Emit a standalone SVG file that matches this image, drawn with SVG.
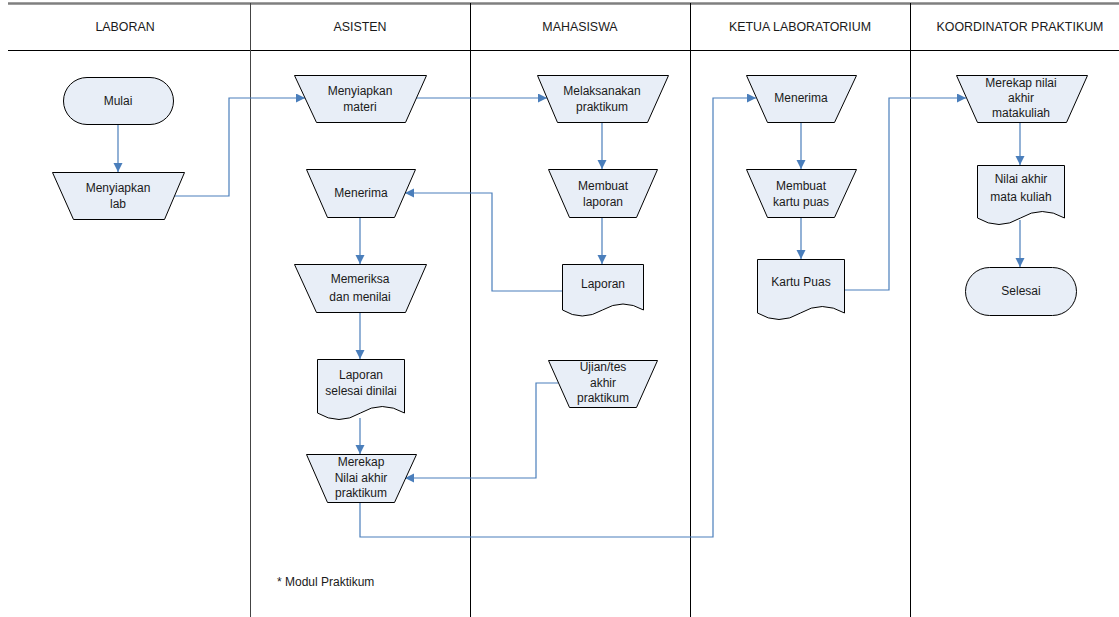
<svg xmlns="http://www.w3.org/2000/svg" width="1119" height="617" viewBox="0 0 1119 617">
<style>
  .shape { fill: #e8eef7; stroke: #000; stroke-width: 1; }
  .lbl { font-family: "Liberation Sans", Arial, sans-serif; font-size: 12px; fill: #1a1a1a; text-anchor: middle; }
  .hdr { font-family: "Liberation Sans", Arial, sans-serif; font-size: 12.4px; fill: #1a1a1a; text-anchor: middle; }
  .conn { fill: none; stroke: #4a7ebb; stroke-width: 1.2; }
  .lane { stroke: #000; stroke-width: 1; }
</style>
<defs>
  <marker id="arr" markerUnits="userSpaceOnUse" markerWidth="10" markerHeight="10" refX="9" refY="4.5" orient="auto">
    <path d="M0,0 L9,4.5 L0,9 z" fill="#4a7ebb"/>
  </marker>
</defs>
<rect width="1119" height="617" fill="#fff"/>
<g id="lanes">
  <line x1="8" y1="3.5" x2="1119" y2="3.5" stroke="#7f7f7f" stroke-width="2.5"/>
  <line class="lane" x1="8" y1="50.5" x2="1119" y2="50.5"/>
  <line x1="250.5" y1="3" x2="250.5" y2="617" stroke="#444" stroke-width="1"/>
  <line class="lane" x1="470.5" y1="3" x2="470.5" y2="617"/>
  <line class="lane" x1="690.5" y1="3" x2="690.5" y2="617"/>
  <line class="lane" x1="910.5" y1="3" x2="910.5" y2="617"/>
  <text class="hdr" x="125" y="31">LABORAN</text>
  <text class="hdr" x="360" y="31">ASISTEN</text>
  <text class="hdr" x="580" y="31">MAHASISWA</text>
  <text class="hdr" x="800" y="31">KETUA LABORATORIUM</text>
  <text class="hdr" x="1020" y="31">KOORDINATOR PRAKTIKUM</text>
</g>
<g id="connectors">
  <path class="conn" d="M118 124 V172" marker-end="url(#arr)"/>
  <path class="conn" d="M174 196 H229 V98 H305" marker-end="url(#arr)"/>
  <path class="conn" d="M415 98 H547" marker-end="url(#arr)"/>
  <path class="conn" d="M602 122 V169" marker-end="url(#arr)"/>
  <path class="conn" d="M602 217 V264" marker-end="url(#arr)"/>
  <path class="conn" d="M562 291 H492 V193 H405" marker-end="url(#arr)"/>
  <path class="conn" d="M360 217 V264" marker-end="url(#arr)"/>
  <path class="conn" d="M360 312 V359" marker-end="url(#arr)"/>
  <path class="conn" d="M360 418 V454" marker-end="url(#arr)"/>
  <path class="conn" d="M558 383 H536 V478 H405" marker-end="url(#arr)"/>
  <path class="conn" d="M360 502 V537 H713 V98 H756" marker-end="url(#arr)"/>
  <path class="conn" d="M801 122 V169" marker-end="url(#arr)"/>
  <path class="conn" d="M801 217 V259" marker-end="url(#arr)"/>
  <path class="conn" d="M844 290 H889 V98 H966" marker-end="url(#arr)"/>
  <path class="conn" d="M1020 122 V165" marker-end="url(#arr)"/>
  <path class="conn" d="M1020 220 V267" marker-end="url(#arr)"/>
</g>
<g id="mulai">
  <rect class="shape" x="63.5" y="77.5" width="110" height="47" rx="23.5" ry="23.5"/>
  <text class="lbl" x="118" y="105">Mulai</text>
</g>
<g id="menyiapkan-lab">
  <path class="shape" d="M52.5 172.5 H184.5 L164.5 219.5 H73.5 Z"/>
  <text class="lbl" x="118" y="192">Menyiapkan</text>
  <text class="lbl" x="118" y="208">lab</text>
</g>
<g id="menyiapkan-materi">
  <path class="shape" d="M294.5 75.5 H426.5 L405.5 122.5 H316.5 Z"/>
  <text class="lbl" x="360" y="95">Menyiapkan</text>
  <text class="lbl" x="360" y="111">materi</text>
</g>
<g id="melaksanakan-praktikum">
  <path class="shape" d="M537.5 75.5 H668.5 L647.5 122.5 H557.5 Z"/>
  <text class="lbl" x="602" y="95">Melaksanakan</text>
  <text class="lbl" x="602" y="111">praktikum</text>
</g>
<g id="menerima-asisten">
  <path class="shape" d="M306.5 169.5 H415.5 L394.5 217.5 H327.5 Z"/>
  <text class="lbl" x="361" y="197">Menerima</text>
</g>
<g id="membuat-laporan">
  <path class="shape" d="M548.5 169.5 H657.5 L636.5 217.5 H569.5 Z"/>
  <text class="lbl" x="603" y="190">Membuat</text>
  <text class="lbl" x="603" y="206">laporan</text>
</g>
<g id="laporan">
  <path class="shape" d="M562.5 264.5 H643.5 V310 Q623 298 602.5 310 Q582 322 562.5 310 Z"/>
  <text class="lbl" x="603" y="288">Laporan</text>
</g>
<g id="memeriksa">
  <path class="shape" d="M294.5 264.5 H426.5 L405.5 312.5 H316.5 Z"/>
  <text class="lbl" x="360" y="283">Memeriksa</text>
  <text class="lbl" x="360" y="301">dan menilai</text>
</g>
<g id="laporan-selesai">
  <path class="shape" d="M317.5 359.5 H404.5 V413 Q382 400 360.5 413 Q339 426 317.5 413 Z"/>
  <text class="lbl" x="361" y="379">Laporan</text>
  <text class="lbl" x="361" y="395">selesai dinilai</text>
</g>
<g id="ujian">
  <path class="shape" d="M548.5 360.5 H657.5 L636.5 407.5 H569.5 Z"/>
  <text class="lbl" x="603" y="371">Ujian/tes</text>
  <text class="lbl" x="603" y="387">akhir</text>
  <text class="lbl" x="603" y="402">praktikum</text>
</g>
<g id="merekap-praktikum">
  <path class="shape" d="M306.5 454.5 H416.5 L394.5 502.5 H327.5 Z"/>
  <text class="lbl" x="361" y="466">Merekap</text>
  <text class="lbl" x="361" y="482">Nilai akhir</text>
  <text class="lbl" x="361" y="497">praktikum</text>
</g>
<g id="menerima-ketua">
  <path class="shape" d="M746.5 75.5 H856.5 L834.5 122.5 H767.5 Z"/>
  <text class="lbl" x="801" y="102">Menerima</text>
</g>
<g id="membuat-kartu">
  <path class="shape" d="M746.5 169.5 H856.5 L834.5 217.5 H767.5 Z"/>
  <text class="lbl" x="801" y="190">Membuat</text>
  <text class="lbl" x="801" y="206">kartu puas</text>
</g>
<g id="kartu-puas">
  <path class="shape" d="M757.5 259.5 H844.5 V313 Q822 300 800.5 313 Q779 326 757.5 313 Z"/>
  <text class="lbl" x="801" y="286">Kartu Puas</text>
</g>
<g id="merekap-matakuliah">
  <path class="shape" d="M956.5 75.5 H1087.5 L1066.5 122.5 H977.5 Z"/>
  <text class="lbl" x="1021" y="87">Merekap nilai</text>
  <text class="lbl" x="1021" y="102">akhir</text>
  <text class="lbl" x="1021" y="117">matakuliah</text>
</g>
<g id="nilai-akhir">
  <path class="shape" d="M977.5 165.5 H1064.5 V218 Q1042 205 1020.5 218 Q999 231 977.5 218 Z"/>
  <text class="lbl" x="1021" y="183">Nilai akhir</text>
  <text class="lbl" x="1021" y="201">mata kuliah</text>
</g>
<g id="selesai">
  <rect class="shape" x="965.5" y="267.5" width="111" height="48" rx="24" ry="24"/>
  <text class="lbl" x="1021" y="295">Selesai</text>
</g>
<g id="catatan">
  <text x="277" y="586" font-family="Liberation Sans, Arial, sans-serif" font-size="12" fill="#1a1a1a">* Modul Praktikum</text>
</g>
</svg>
